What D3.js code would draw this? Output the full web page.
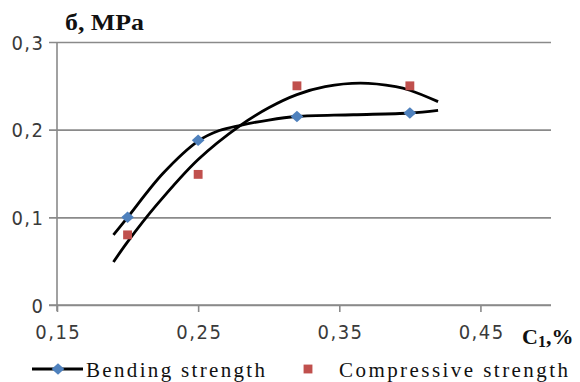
<!DOCTYPE html>
<html>
<head>
<meta charset="utf-8">
<script src="https://cdn.jsdelivr.net/npm/d3@7"></script>
<style>
  html, body { margin: 0; padding: 0; background: #fff; }
  svg { display: block; }
</style>
</head>
<body>
<svg id="chart" width="580" height="382"></svg>
<script>
// ---- data ----
const xTicks = [0.15, 0.25, 0.35, 0.45];
const xTickLabels = ["0,15", "0,25", "0,35", "0,45"];
const yTicks = [0, 0.1, 0.2, 0.3];
const yTickLabels = ["0", "0,1", "0,2", "0,3"];

const concentration = [0.2, 0.25, 0.32, 0.4];
const bendingStrength = [0.1, 0.188, 0.215, 0.219];
const compressiveStrength = [0.08, 0.149, 0.25, 0.25];

// trend lines
const bendingTrendX = [0.19, 0.20, 0.225, 0.25, 0.265, 0.28, 0.30, 0.32, 0.36, 0.40, 0.42];
const bendingTrendY = [0.08, 0.10, 0.150, 0.187, 0.199, 0.205, 0.211, 0.215, 0.217, 0.219, 0.222];
const compTrendX = [0.19, 0.20, 0.22, 0.25, 0.28, 0.30, 0.32, 0.34, 0.365, 0.39, 0.40, 0.42];
const compTrendY = [0.049, 0.072, 0.113, 0.166, 0.205, 0.225, 0.240, 0.249, 0.253, 0.249, 0.245, 0.232];

const seriesNames = ["Bending strength", "Compressive strength"];

// ---- layout ----
const margin = { left: 57, right: 29, top: 42, bottom: 77 };
const W = 580, H = 382;
const svg = d3.select("#chart");
const x = d3.scaleLinear().domain([0.15, 0.5]).range([margin.left, W - margin.right]);
const y = d3.scaleLinear().domain([0, 0.3]).range([H - margin.bottom, margin.top]);

const gridColor = "#8a8a8a";
const blue = "#4F81BD";
const red = "#C0504D";
const numFont = "'DejaVu Sans Condensed', 'DejaVu Sans', sans-serif";
const serif = "'Liberation Serif', 'DejaVu Serif', serif";
const labelColor = "#3a3a3a";

// gridlines
const gy = svg.append("g").attr("transform", `translate(${x.range()[1]},0)`);
gy.call(d3.axisLeft(y).tickValues(yTicks).tickSize(x.range()[1] - x.range()[0] + 8).tickFormat(""));
gy.select(".domain").remove();
gy.selectAll(".tick line").attr("stroke", gridColor).attr("stroke-width", 1.6);

// y axis + labels
const gyl = svg.append("g").attr("transform", `translate(${margin.left},0)`);
gyl.call(d3.axisLeft(y).tickValues(yTicks).tickSize(0).tickPadding(14).tickFormat((d, i) => yTickLabels[i]));
gyl.select(".domain").attr("stroke", gridColor).attr("stroke-width", 1.6)
  .attr("d", `M0,${y(0.3)}V${y(0) + 6}`);
gyl.selectAll(".tick text")
  .attr("font-family", numFont).attr("font-size", 20).attr("fill", labelColor)
  .attr("letter-spacing", 1.5).attr("dy", "0.36em").attr("dx", 1.5);

// x axis
const gx = svg.append("g").attr("transform", `translate(0,${y(0)})`);
gx.call(d3.axisBottom(x).tickValues(xTicks).tickSize(7).tickSizeOuter(0).tickPadding(13)
  .tickFormat((d, i) => xTickLabels[i]));
gx.select(".domain").attr("stroke", gridColor).attr("stroke-width", 1.6)
  .attr("d", `M${x(0.15) - 8},0H${x(0.5)}`);
gx.selectAll(".tick line").attr("stroke", gridColor).attr("stroke-width", 1.6);
gx.selectAll(".tick text")
  .attr("font-family", numFont).attr("font-size", 20).attr("fill", labelColor)
  .attr("letter-spacing", 1.5).attr("dy", "0.72em").attr("dx", 0.75);

// trend lines
const line = d3.line().x(d => x(d[0])).y(d => y(d[1])).curve(d3.curveCatmullRom.alpha(0.5));
const bendTrend = bendingTrendX.map((v, i) => [v, bendingTrendY[i]]);
const compTrend = compTrendX.map((v, i) => [v, compTrendY[i]]);
[bendTrend, compTrend].forEach(pts => {
  svg.append("path").datum(pts).attr("d", line)
    .attr("fill", "none").attr("stroke", "#000").attr("stroke-width", 2.8)
    .attr("stroke-linecap", "butt");
});

// markers
const diamond = d3.symbol().type(d3.symbolDiamond2).size(85);
const square = d3.symbol().type(d3.symbolSquare2).size(100);
svg.append("g").selectAll("path").data(concentration.map((c, i) => [c, compressiveStrength[i]]))
  .join("path")
  .attr("d", square)
  .attr("transform", d => `translate(${x(d[0])},${y(d[1])})`)
  .attr("fill", red).attr("stroke", "none");
svg.append("g").selectAll("path").data(concentration.map((c, i) => [c, bendingStrength[i]]))
  .join("path")
  .attr("d", diamond)
  .attr("transform", d => `translate(${x(d[0])},${y(d[1])}) scale(1.1,1)`)
  .attr("fill", blue).attr("stroke", "none");

// axis titles
svg.append("text").attr("x", 65).attr("y", 30)
  .attr("font-family", serif).attr("font-weight", "bold").attr("font-size", 23).attr("fill", "#111")
  .attr("textLength", 79).attr("lengthAdjust", "spacingAndGlyphs")
  .text("б, MPa");
const xt = svg.append("text").attr("x", 522).attr("y", 344)
  .attr("font-family", serif).attr("font-weight", "bold").attr("font-size", 22).attr("fill", "#111");
xt.append("tspan").text("C");
xt.append("tspan").attr("font-size", 16).attr("dy", 3).text("1");
xt.append("tspan").attr("dy", -3).text(",%");

// legend
const lg = svg.append("g");
lg.append("line").attr("x1", 32).attr("x2", 83).attr("y1", 369).attr("y2", 369)
  .attr("stroke", "#000").attr("stroke-width", 2.8);
lg.append("path").attr("d", diamond).attr("transform", "translate(58,369) scale(1.1,1)").attr("fill", blue);
lg.append("text").attr("x", 86).attr("y", 377).attr("font-family", serif).attr("font-size", 21)
  .attr("fill", "#111").attr("textLength", 179).attr("lengthAdjust", "spacing").text(seriesNames[0]);
lg.append("path").attr("d", square)
  .attr("transform", "translate(308,369)").attr("fill", red);
lg.append("text").attr("x", 339).attr("y", 377).attr("font-family", serif).attr("font-size", 21)
  .attr("fill", "#111").attr("textLength", 229).attr("lengthAdjust", "spacing").text(seriesNames[1]);
</script>
</body>
</html>
